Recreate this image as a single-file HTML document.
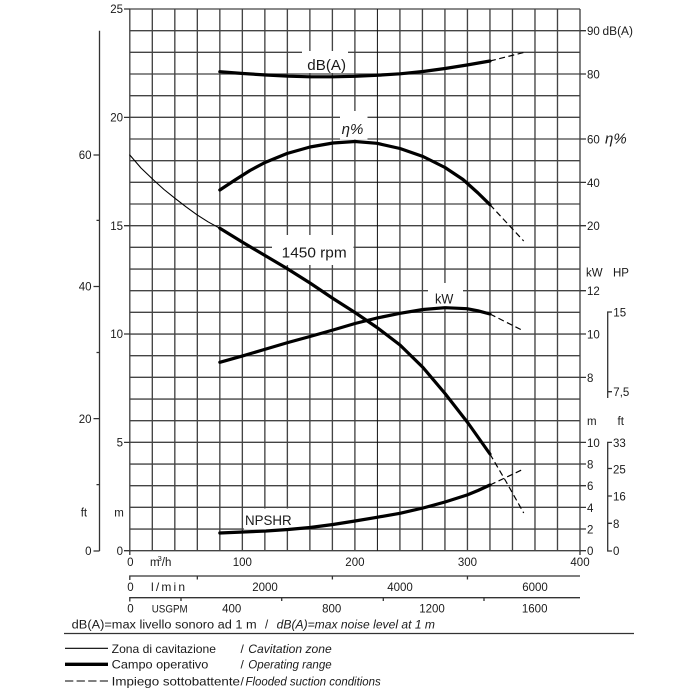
<!DOCTYPE html>
<html><head><meta charset="utf-8"><style>
html,body{margin:0;padding:0;background:#fff;}
svg{display:block;}
text{font-family:"Liberation Sans",sans-serif;fill:#1a1a1a;}
</style></head><body>
<svg width="700" height="700" viewBox="0 0 700 700" xmlns="http://www.w3.org/2000/svg">
<rect width="700" height="700" fill="#fff"/>
<!-- grid -->
<g stroke="#444" stroke-width="1.35" fill="none">
<path d="M129.8 9V550.7M152.31 9V550.7M174.82 9V550.7M197.33 9V550.7M219.84 9V550.7M242.35 9V550.7M264.86 9V550.7M287.37 9V550.7M309.88 9V550.7M332.39 9V550.7M354.9 9V550.7M399.92 9V550.7M422.43 9V550.7M444.94 9V550.7M467.45 9V550.7M489.96 9V550.7M512.47 9V550.7M534.98 9V550.7M557.49 9V550.7M580 9V550.7"/>
<path d="M129.8 9H580M129.8 30.67H580M129.8 52.34H580M129.8 74H580M129.8 95.67H580M129.8 117.34H580M129.8 139H580M129.8 160.68H580M129.8 182.34H580M129.8 204.01H580M129.8 225.68H580M129.8 247.35H580M129.8 269.02H580M129.8 290.68H580M129.8 312.35H580M129.8 334.02H580M129.8 355.69H580M129.8 377.36H580M129.8 399.02H580M129.8 420.69H580M129.8 442.36H580M129.8 464.03H580M129.8 485.7H580M129.8 507.36H580M129.8 529.03H580M129.8 550.7H580"/>
</g>
<path d="M377.41 9V550.7" stroke="#111" stroke-width="1"/>
<!-- label boxes -->
<g fill="#fff">
<rect x="302" y="51" width="46" height="22"/>
<rect x="340" y="111" width="27.5" height="28.5"/>
<rect x="272" y="235" width="81.5" height="30"/>
<rect x="428" y="283" width="35" height="23.5"/>
<rect x="244" y="508.5" width="57" height="21"/>
</g>
<!-- axis ticks -->
<g stroke="#333" stroke-width="1.3" fill="none">
<path d="M124 9H130M124 117.34H130M124 225.68H130M124 334.02H130M124 442.36H130M124 550.7H130"/>
<path d="M99.5 30.7V551M93.5 155H99.5M93.5 286.5H99.5M93.5 418.6H99.5M93.5 551H99.5M96.5 220.4H99.5M96.5 352.5H99.5M96.5 484.6H99.5"/>
<path d="M580 30.67H586M580 74H586M580 139H586M580 182.34H586M580 225.68H586M580 290.68H586M580 334.02H586M580 377.36H586M580 442.36H586M580 464.03H586M580 485.7H586M580 507.36H586M580 529.03H586M580 550.7H586"/>
<path d="M612 312H607.7V398M607.7 391.7H612"/>
<path d="M612 442.4H607.7V551H612M607.7 468.5H612M607.7 496H612M607.7 523.3H612"/>
<path d="M129.8 550.7V555M580 550.7V555"/>
<path d="M129.8 580V576H580M197.33 576V579.5M332.39 576V579.5M467.45 576V579.5"/>
<path d="M129.8 601.5V597.7H580M181 597.7V601M281.7 597.7V601M383.3 597.7V601M484 597.7V601"/>
<path d="M64 633.5H634"/>
</g>
<!-- curves -->
<g fill="none" stroke="#000" stroke-linejoin="round" stroke-linecap="round">
<polyline stroke-width="1.1" points="129.8,155 141,168 153,179.5 164,189.5 175,198.3 186,206.8 197,214.8 208,221.8 219.84,228.3"/>
<polyline stroke-width="3.2" points="219.84,228.3 243,242.5 265,255.5 287,268.5 310,283 333,298.5 355,312.5 377,327.5 400,345 423,367.5 445,393.5 468,423 489.96,454"/>
<polyline stroke-width="3.2" points="219.84,190 235,180 250,170.5 265,162.5 287,153.5 310,147 333,143 355,141.5 377,143.3 400,148.5 423,156.5 445,167.5 463,179.5 478,193 489.96,204.7"/>
<polyline stroke-width="3.2" points="219.84,71.7 243,73.5 266,75 288,76.2 310,76.8 333,76.8 355,76.3 377,75.3 400,73.8 423,71.5 445,68.5 467,65 489.96,61"/>
<polyline stroke-width="3.2" points="219.84,362.3 243,355.8 266,349 288,342.5 310,336.5 333,330 355,323.5 377,318 400,313.3 423,309.5 445,307.7 467,308.7 478,310.8 489.96,314"/>
<polyline stroke-width="3.2" points="219.84,533 243,532 266,531 288,529.5 310,527.5 333,524.5 355,521 377,517.3 400,513.3 423,508 445,502 467,495 478,490.5 489.96,485"/>
</g>
<g fill="none" stroke="#000" stroke-width="1.2" stroke-dasharray="6 3.5">
<polyline points="489.96,454 506,481.5 523.7,513"/>
<polyline points="489.96,204.7 523.7,241"/>
<polyline points="489.96,61 524.5,52.3"/>
<polyline points="489.96,314 523.7,331"/>
<polyline points="489.96,485 523.7,469"/>
</g>
<!-- in-plot labels -->
<text x="307.3" y="70" font-size="15" textLength="38.7" lengthAdjust="spacingAndGlyphs">dB(A)</text>
<text x="341.7" y="134" font-size="15" font-style="italic" textLength="21.7" lengthAdjust="spacingAndGlyphs">η%</text>
<text x="281.7" y="257.3" font-size="15" textLength="65" lengthAdjust="spacingAndGlyphs">1450 rpm</text>
<text x="435" y="303.3" font-size="14" textLength="18.3" lengthAdjust="spacingAndGlyphs">kW</text>
<text x="245" y="525" font-size="14" textLength="46.7" lengthAdjust="spacingAndGlyphs">NPSHR</text>
<!-- left labels -->
<g font-size="11.5" text-anchor="end">
<text x="123" y="13">25</text>
<text x="123" y="121.5">20</text>
<text x="123" y="229.8">15</text>
<text x="123" y="338.2">10</text>
<text x="123" y="446.5">5</text>
<text x="123" y="554.8">0</text>
<text x="91.5" y="159.2">60</text>
<text x="91.5" y="290.7">40</text>
<text x="91.5" y="422.8">20</text>
<text x="91.5" y="555.2">0</text>
</g>
<text x="80.7" y="516.5" font-size="11.5">ft</text>
<text x="114.3" y="516.5" font-size="11.5">m</text>
<!-- right labels -->
<g font-size="11.5">
<text x="587" y="35.2">90</text>
<text x="602.5" y="35.2" textLength="30.5" lengthAdjust="spacingAndGlyphs">dB(A)</text>
<text x="587" y="78.5">80</text>
<text x="587" y="143.5">60</text>
<text x="587" y="186.8">40</text>
<text x="587" y="230.2">20</text>
<text x="586" y="276.5">kW</text>
<text x="613" y="276.5">HP</text>
<text x="587" y="295.2">12</text>
<text x="587" y="338.5">10</text>
<text x="587" y="381.8">8</text>
<text x="613.3" y="316.5">15</text>
<text x="613.3" y="396">7,5</text>
<text x="587" y="425">m</text>
<text x="617.5" y="425">ft</text>
<text x="587" y="446.9">10</text>
<text x="587" y="468.5">8</text>
<text x="587" y="490.2">6</text>
<text x="587" y="511.9">4</text>
<text x="587" y="533.5">2</text>
<text x="587" y="555.2">0</text>
<text x="613" y="446.9">33</text>
<text x="613" y="473.3">25</text>
<text x="613" y="500.5">16</text>
<text x="613" y="527.8">8</text>
<text x="613" y="555.2">0</text>
</g>
<text x="605" y="143.5" font-size="15" font-style="italic" textLength="21.7" lengthAdjust="spacingAndGlyphs">η%</text>
<!-- bottom axis labels -->
<g font-size="11.5" text-anchor="middle">
<text x="130.3" y="566">0</text>
<text x="242.35" y="566">100</text>
<text x="354.9" y="566">200</text>
<text x="467.45" y="566">300</text>
<text x="580" y="566">400</text>
<text x="130.5" y="591">0</text>
<text x="265" y="591">2000</text>
<text x="400" y="591">4000</text>
<text x="535" y="591">6000</text>
<text x="130.5" y="612.5">0</text>
<text x="231.7" y="612.5">400</text>
<text x="331.7" y="612.5">800</text>
<text x="432" y="612.5">1200</text>
<text x="534.7" y="612.5">1600</text>
</g>
<text x="150" y="566" font-size="11.5">m<tspan font-size="7.5" dy="-5" dx="-2">3</tspan><tspan dy="5" dx="0">/h</tspan></text>
<text x="151" y="591" font-size="12" textLength="34" lengthAdjust="spacing">l/min</text>
<text x="151.7" y="612.5" font-size="11" textLength="36" lengthAdjust="spacingAndGlyphs">USGPM</text>
<!-- footnote -->
<text x="71.7" y="628.3" font-size="11.5" textLength="185" lengthAdjust="spacingAndGlyphs">dB(A)=max livello sonoro ad 1 m</text>
<text x="265" y="628.3" font-size="11.5">/</text>
<text x="276.7" y="628.3" font-size="11.5" font-style="italic" textLength="158.3" lengthAdjust="spacingAndGlyphs">dB(A)=max noise level at 1 m</text>
<!-- legend -->
<g stroke="#000" fill="none">
<path d="M65 648.3H108" stroke-width="1.1"/>
<path d="M65 664.3H108" stroke-width="3.4"/>
<path d="M65 681H108" stroke-width="1.1" stroke-dasharray="8.3 3.3"/>
</g>
<g font-size="12">
<text x="111.7" y="652.8" textLength="104.3" lengthAdjust="spacingAndGlyphs">Zona di cavitazione</text>
<text x="240.5" y="652.8">/</text>
<text x="248.3" y="652.8" font-style="italic" textLength="83.4" lengthAdjust="spacingAndGlyphs">Cavitation zone</text>
<text x="111.7" y="668.6" textLength="96.6" lengthAdjust="spacingAndGlyphs">Campo operativo</text>
<text x="240.5" y="668.6">/</text>
<text x="248.3" y="668.6" font-style="italic" textLength="83.4" lengthAdjust="spacingAndGlyphs">Operating range</text>
<text x="111.7" y="685.5" textLength="128.3" lengthAdjust="spacingAndGlyphs">Impiego sottobattente</text>
<text x="240.5" y="685.5">/</text>
<text x="245.5" y="685.5" font-style="italic" textLength="135.2" lengthAdjust="spacingAndGlyphs">Flooded suction conditions</text>
</g>
</svg>
</body></html>
